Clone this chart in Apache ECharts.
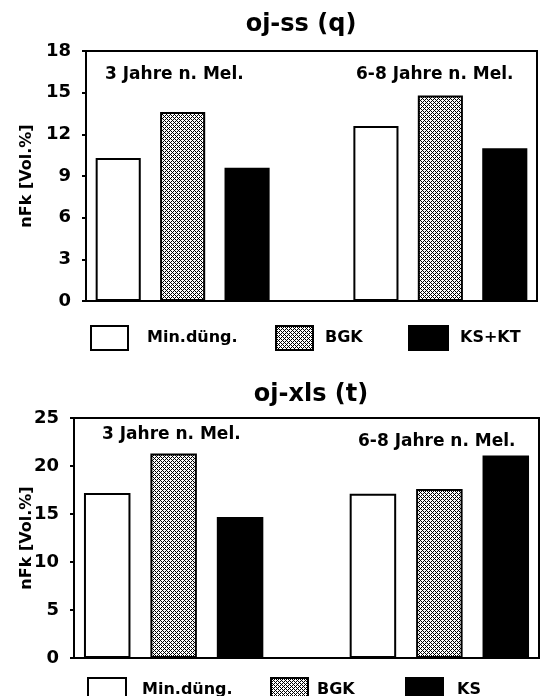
<!DOCTYPE html>
<html>
<head>
<meta charset="utf-8">
<script src="https://cdn.jsdelivr.net/npm/echarts@6/dist/echarts.min.js"></script>
<style>
  html, body { margin: 0; padding: 0; background: #fff; }
  #chart { width: 548px; height: 696px; }
</style>
</head>
<body>
<div id="chart"></div>
<script>
// Plant-available water (nFk) after melioration, two soil profiles
const periods = ['3 Jahre n. Mel.', '6-8 Jahre n. Mel.'];

// oj-ss (q)
const ssTitle = 'oj-ss (q)';
const ssNames = ['Min.düng.', 'BGK', 'KS+KT'];
const ssMin = [10.3, 12.6];
const ssBgk = [13.6, 14.8];
const ssKsKt = [9.6, 11.0];
const ssTicks = { min: 0, max: 18, step: 3 };

// oj-xls (t)
const xlsTitle = 'oj-xls (t)';
const xlsNames = ['Min.düng.', 'BGK', 'KS'];
const xlsMin = [17.2, 17.1];
const xlsBgk = [21.3, 17.6];
const xlsKs = [14.7, 21.1];
const xlsTicks = { min: 0, max: 25, step: 5 };

const yName = 'nFk [Vol.%]';

// seven slots along x: three bars, an empty gap, three bars
const SLOTS = 7;
function slotData(values, idx) {
  const out = new Array(SLOTS).fill('-');
  values.forEach((v, g) => { out[g * 4 + idx] = v; });
  return out;
}

// stippled fill for the BGK bars
function dotPattern() {
  const c = document.createElement('canvas');
  c.width = 4; c.height = 4;
  const ctx = c.getContext('2d');
  ctx.fillStyle = '#fff';
  ctx.fillRect(0, 0, 4, 4);
  ctx.fillStyle = '#000';
  [[0,0],[1,1],[2,2],[3,3],[1,3],[3,1]].forEach(p => ctx.fillRect(p[0], p[1], 1, 1));
  return c;
}
const pattern = { image: dotPattern(), repeat: 'repeat' };

const FONT = 'DejaVu Sans';
const fills = ['#ffffff', pattern, '#000000'];

function makeSeries(names, arrays, gridIdx) {
  return arrays.map((vals, i) => ({
    type: 'bar',
    name: names[i],
    xAxisIndex: gridIdx,
    yAxisIndex: gridIdx,
    data: slotData(vals, i),
    barWidth: '70%',
    barGap: '-100%',
    itemStyle: { color: fills[i], borderColor: '#000', borderWidth: 2 },
    emphasis: { disabled: true },
    silent: true
  }));
}

function yAxis(gridIdx, t, labelMargin, nameGap) {
  return {
    gridIndex: gridIdx,
    type: 'value',
    min: t.min, max: t.max, interval: t.step,
    name: yName,
    nameLocation: 'middle',
    nameGap: nameGap,
    nameMoveOverlap: false,
    nameTextStyle: { fontFamily: FONT, fontWeight: 'bold', fontSize: 16, color: '#000' },
    axisLine: { show: true, lineStyle: { color: '#000', width: 2 } },
    axisTick: { show: true, length: 4, lineStyle: { color: '#000', width: 2 } },
    axisLabel: { fontFamily: FONT, fontWeight: 'bold', fontSize: 18, color: '#000', margin: labelMargin },
    splitLine: { show: false }
  };
}

function xAxis(gridIdx) {
  return {
    gridIndex: gridIdx,
    type: 'category',
    data: new Array(SLOTS).fill(''),
    boundaryGap: true,
    axisLine: { show: true, lineStyle: { color: '#000', width: 2 } },
    axisTick: { show: false },
    axisLabel: { show: false }
  };
}

function legendItem(name, left, top, w, h, pad) {
  return {
    data: [name],
    left: left, top: top,
    itemWidth: w, itemHeight: h,
    icon: 'rect',
    selectedMode: false,
    itemStyle: { borderColor: '#000', borderWidth: 2 },
    textStyle: { fontFamily: FONT, fontWeight: 'bold', fontSize: 16, color: '#000', padding: [0, 0, 0, pad] }
  };
}

function note(text, x, y) {
  return {
    type: 'text', left: x, top: y,
    style: { text: text, fontFamily: FONT, fontWeight: 'bold', fontSize: 17, fill: '#000' }
  };
}

const chart = echarts.init(document.getElementById('chart'), null, { renderer: 'canvas' });
chart.setOption({
  animation: false,
  backgroundColor: '#fff',
  title: [
    { text: ssTitle, left: 296, top: 8, textAlign: 'center',
      textStyle: { fontFamily: FONT, fontWeight: 'bold', fontSize: 24, color: '#000' } },
    { text: xlsTitle, left: 306, top: 378, textAlign: 'center',
      textStyle: { fontFamily: FONT, fontWeight: 'bold', fontSize: 24, color: '#000' } }
  ],
  grid: [
    { left: 86, right: 11, top: 51, height: 250, show: true, borderColor: '#000', borderWidth: 2, backgroundColor: 'transparent' },
    { left: 74, right: 9, top: 418, height: 240, show: true, borderColor: '#000', borderWidth: 2, backgroundColor: 'transparent' }
  ],
  xAxis: [xAxis(0), xAxis(1)],
  yAxis: [yAxis(0, ssTicks, 15, 51), yAxis(1, xlsTicks, 15, 39)],
  legend: [
    legendItem(ssNames[0], 85, 320, 37, 24, 14),
    legendItem(ssNames[1], 270, 320, 37, 24, 7),
    legendItem(ssNames[2], 403, 320, 39, 24, 7),
    legendItem(xlsNames[0], 82, 672, 38, 23, 11),
    legendItem(xlsNames[1], 265, 672, 37, 23, 4),
    legendItem(xlsNames[2], 400, 672, 37, 23, 9)
  ],
  graphic: [
    note(periods[0], 105, 66),
    note(periods[1], 356, 66),
    note(periods[0], 102, 426),
    note(periods[1], 358, 433)
  ],
  series: [
    ...makeSeries(ssNames, [ssMin, ssBgk, ssKsKt], 0),
    ...makeSeries(xlsNames, [xlsMin, xlsBgk, xlsKs], 1)
  ]
});
</script>
</body>
</html>
